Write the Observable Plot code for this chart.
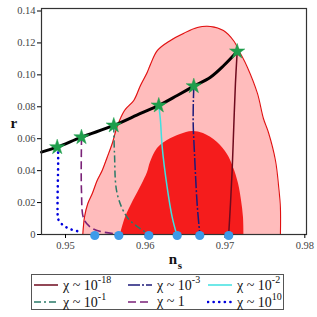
<!DOCTYPE html>
<html>
<head>
<meta charset="utf-8">
<script src="https://cdn.jsdelivr.net/npm/d3@7"></script>
<script src="https://cdn.jsdelivr.net/npm/@observablehq/plot@0.6"></script>
<style>
  body { margin: 0; background: #fff; font-family: "Liberation Serif", "Times New Roman", Times, serif; }
  #legend {
    margin-left: 31px; width: 253px; height: 36px; box-sizing: border-box;
    border: 1px solid #555; display: grid;
    grid-template-columns: 94px 80px 77px; grid-template-rows: 17px 17px;
    padding: 1px 0 0 1px; font-size: 14px; color: #111;
  }
  .item { display: flex; align-items: center; white-space: nowrap; }
  .item svg { margin-right: 4px; flex: none; }
  sup { font-size: 10px; position: relative; top: -1px; }
</style>
</head>
<body>
<div id="chart"></div>
<div id="legend"></div>
<script>
// ---------- data ----------
const xTicks = [0.95, 0.96, 0.97, 0.98];
const yTicks = [0, 0.02, 0.04, 0.06, 0.08, 0.10, 0.12, 0.14];

// 95% CL region (outer, light pink) boundary
const outerX = [0.95217,0.95238,0.95279,0.95335,0.95397,0.9546,0.95523,0.95585,0.95648,0.9574,0.95856,0.9594,0.96024,0.96065,0.96153,0.96316,0.96479,0.96654,0.96817,0.9698,0.97105,0.97193,0.97281,0.97406,0.97481,0.97544,0.97632,0.97673,0.97694,0.97694];
const outerY = [0,0.01084,0.01924,0.0255,0.03383,0.0401,0.04843,0.05683,0.06767,0.0777,0.08396,0.09336,0.1015,0.10652,0.11529,0.12155,0.12594,0.1297,0.13033,0.12782,0.12155,0.11341,0.10464,0.08835,0.07268,0.06391,0.04637,0.02945,0.01692,0];

// 68% CL region (inner, red)
const innerX = [0.95689,0.95752,0.95852,0.95952,0.96028,0.96065,0.96153,0.96278,0.96441,0.96591,0.96729,0.96905,0.9703,0.97105,0.97168,0.97206,0.97231,0.97237];
const innerY = [0,0.01065,0.0213,0.0307,0.03885,0.04511,0.05388,0.0589,0.06266,0.06454,0.06328,0.05764,0.05013,0.04198,0.03195,0.0213,0.01065,0];

// black curve
const blackX = [0.94699,0.94896,0.95200,0.95605,0.95940,0.96169,0.96400,0.96608,0.96817,0.96984,0.97152];
const blackY = [0.05157,0.05470,0.06096,0.06830,0.07581,0.08083,0.08709,0.09292,0.09856,0.10589,0.11466];

// stars
const starX = [0.94896,0.95200,0.95605,0.96169,0.96608,0.97152];
const starY = [0.05470,0.06096,0.06830,0.08083,0.09292,0.11466];

// end points at r = 0
const dotX = [0.95367,0.95668,0.96044,0.96400,0.96683,0.97046];

// chi curves
const chi10X = [0.94896,0.94904,0.94904,0.94916,0.94959,0.95021,0.95084,0.95167];
const chi10Y = [0.05470,0.05370,0.01084,0.00877,0.00627,0.00420,0.00294,0.00188];
const chi1X = [0.95200,0.95200,0.95200,0.95229,0.95313,0.95439,0.95627];
const chi1Y = [0.06096,0.0589,0.02757,0.00984,0.00457,0.00188,0.00044];
const chim1X = [0.95605,0.95614,0.95648,0.95773,0.9594,0.96044];
const chim1Y = [0.06830,0.05056,0.0255,0.01084,0.00357,0.00044];
const chim2X = [0.96169,0.9619,0.96212,0.96274,0.96337,0.96391];
const chim2Y = [0.08083,0.07143,0.0547,0.02964,0.01084,0.00044];
const chim3X = [0.96608,0.966,0.96617,0.9665,0.96683];
const chim3Y = [0.09292,0.07143,0.05056,0.01924,0.00044];
const chim18X = [0.97152,0.9713,0.97109,0.97089,0.97068,0.97046];
const chim18Y = [0.11466,0.09442,0.06723,0.0401,0.01924,0.00044];

const legendLabels = ["-18", "-3", "-2", "-1", "1", "10"];

// ---------- build ----------
const pts = (xs, ys) => xs.map((x, i) => ({x, y: ys[i]}));
const series = [
  {key: "-18", data: pts(chim18X, chim18Y), stroke: "#6e0a1e", dash: null, w: 1.5, cap: "butt"},
  {key: "-3", data: pts(chim3X, chim3Y), stroke: "#1c1a7a", dash: "12,2,2,2", w: 1.5, cap: "butt"},
  {key: "-2", data: pts(chim2X, chim2Y), stroke: "#3fe0e0", dash: null, w: 1.5, cap: "butt"},
  {key: "-1", data: pts(chim1X, chim1Y), stroke: "#2a7a68", dash: "7,3,2,3", w: 1.5, cap: "butt"},
  {key: "1", data: pts(chi1X, chi1Y), stroke: "#7a2278", dash: "8,4", w: 1.6, cap: "butt"},
  {key: "10", data: pts(chi10X, chi10Y), stroke: "#0000dd", dash: "0.1,5.5", w: 2.6, cap: "round"}
];

const serif = "'Liberation Serif', 'Times New Roman', Times, serif";
const chart = Plot.plot({
  width: 317, height: 274,
  marginLeft: 41, marginRight: 11, marginTop: 8, marginBottom: 40,
  style: {fontFamily: serif, background: "#fff"},
  x: {domain: [0.94699, 0.98021]},
  y: {domain: [0, 0.14157]},
  marks: [
    Plot.areaY(pts(outerX, outerY), {x: "x", y: "y", fill: "#ffbcbc", curve: "catmull-rom"}),
    Plot.areaY(pts(innerX, innerY), {x: "x", y: "y", fill: "#f51c1c", curve: "catmull-rom"}),
    Plot.line(pts(outerX, outerY), {x: "x", y: "y", stroke: "#e01010", strokeWidth: 1.1, curve: "catmull-rom"}),
    ...series.map(s => Plot.line(s.data, {x: "x", y: "y", stroke: s.stroke, strokeWidth: s.w,
      strokeDasharray: s.dash, strokeLinecap: s.cap, curve: "catmull-rom"})),
    Plot.line(pts(blackX, blackY), {x: "x", y: "y", stroke: "#000", strokeWidth: 3, curve: "catmull-rom"}),
    Plot.frame({stroke: "#333", strokeWidth: 1.2}),
    Plot.axisX({ticks: xTicks, tickFormat: d => d.toFixed(2), tickSize: 4, tickPadding: 3,
      fontSize: 10.5, fontFamily: serif, fill: "#444", label: null}),
    Plot.axisY({ticks: yTicks, tickFormat: d => d === 0 ? "0" : d.toFixed(2), tickSize: 4, tickPadding: 2,
      fontSize: 10.5, fontFamily: serif, fill: "#444", label: null}),
    Plot.dot(pts(starX, starY), {x: "x", y: "y", symbol: "star", r: 4.8, fill: "#1e9e4c", stroke: "#1e9e4c", strokeWidth: 0.5}),
    Plot.dot(dotX.map(x => ({x, y: 0})), {x: "x", y: "y", r: 4.6, fill: "#3d9be9", dy: 1}),
    Plot.text(["r"], {frameAnchor: "left", dx: -31, dy: 2, fontSize: 15, fontWeight: "bold", fontFamily: serif, fill: "#111"}),
    Plot.text(["n"], {frameAnchor: "bottom", dx: -1, dy: 29, fontSize: 15, fontWeight: "bold", fontFamily: serif, fill: "#111"}),
    Plot.text(["s"], {frameAnchor: "bottom", dx: 6, dy: 34, fontSize: 11, fontWeight: "bold", fontFamily: serif, fill: "#111"})
  ]
});
document.getElementById("chart").appendChild(chart);

// legend
const legend = document.getElementById("legend");
legendLabels.forEach(k => {
  const s = series.find(d => d.key === k);
  const item = document.createElement("div");
  item.className = "item";
  const ns = "http://www.w3.org/2000/svg";
  const svg = document.createElementNS(ns, "svg");
  svg.setAttribute("width", 26); svg.setAttribute("height", 8);
  const ln = document.createElementNS(ns, "line");
  ln.setAttribute("x1", 1); ln.setAttribute("x2", 25); ln.setAttribute("y1", 4); ln.setAttribute("y2", 4);
  ln.setAttribute("stroke", s.stroke); ln.setAttribute("stroke-width", s.w);
  if (s.dash) ln.setAttribute("stroke-dasharray", s.dash);
  ln.setAttribute("stroke-linecap", s.cap);
  svg.appendChild(ln);
  item.appendChild(svg);
  const t = document.createElement("span");
  t.innerHTML = "χ ~ " + (k === "1" ? "1" : "10<sup>" + k + "</sup>");
  item.appendChild(t);
  legend.appendChild(item);
});
</script>
</body>
</html>
